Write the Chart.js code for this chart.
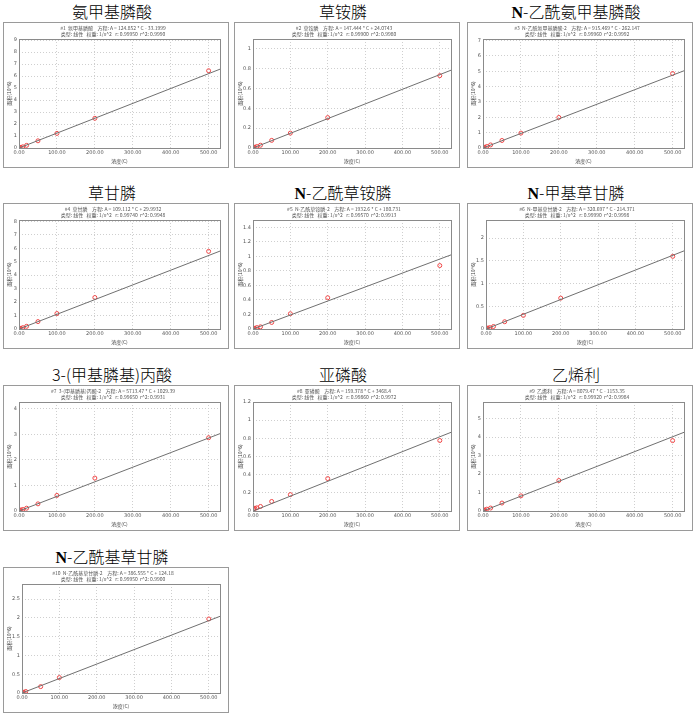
<!DOCTYPE html>
<html>
<head>
<meta charset="utf-8">
<script src="https://cdn.jsdelivr.net/npm/chart.js@4"></script>
<style>
  body { margin: 0; background: #fff; width: 696px; height: 719px; position: relative; overflow: hidden; }
  .ttl { position: absolute; width: 226px; height: 20px; line-height: 20px; text-align: center;
         font-family: "Noto Sans CJK SC", sans-serif; font-size: 16px; font-weight: 300; color: #000; }
  .ttl .n { font-family: "Liberation Serif", serif; font-weight: bold; }
  .box { position: absolute; border: 1px solid #9a9a9a; background: #fff; }
  .box canvas { display: block; }
</style>
</head>
<body>
<script>
// concentrations of the calibration levels
const conc = [1, 2, 5, 10, 20, 50, 100, 200, 500];

const titles = ["氨甲基膦酸", "草铵膦", "N-乙酰氨甲基膦酸", "草甘膦", "N-乙酰草铵膦",
  "N-甲基草甘膦", "3-(甲基膦基)丙酸", "亚磷酸", "乙烯利", "N-乙酰基草甘膦"];

const headers = [
  ["#1  氨甲基膦酸    方程: A = 124.852 * C - 33.1999", "类型: 线性   权重: 1/x^2   r: 0.99950  r^2: 0.9990"],
  ["#2  草铵膦    方程: A = 147.444 * C + 24.0743", "类型: 线性   权重: 1/x^2   r: 0.99900  r^2: 0.9980"],
  ["#3  N-乙酰氨甲基膦酸-2    方程: A = 915.469 * C - 262.147", "类型: 线性   权重: 1/x^2   r: 0.99960  r^2: 0.9992"],
  ["#4  草甘膦    方程: A = 109.112 * C + 29.9932", "类型: 线性   权重: 1/x^2   r: 0.99740  r^2: 0.9948"],
  ["#5  N-乙酰草铵膦-2    方程: A = 1932.6 * C + 180.731", "类型: 线性   权重: 1/x^2   r: 0.99570  r^2: 0.9913"],
  ["#6  N-甲基草甘膦-2    方程: A = 320.697 * C - 214.371", "类型: 线性   权重: 1/x^2   r: 0.99990  r^2: 0.9998"],
  ["#7  3-(甲基膦基)丙酸-2    方程: A = 5713.47 * C + 1029.39", "类型: 线性   权重: 1/x^2   r: 0.99650  r^2: 0.9931"],
  ["#8  亚磷酸    方程: A = 159.378 * C + 3468.4", "类型: 线性   权重: 1/x^2   r: 0.99860  r^2: 0.9972"],
  ["#9  乙烯利    方程: A = 8079.47 * C - 1153.35", "类型: 线性   权重: 1/x^2   r: 0.99920  r^2: 0.9984"],
  ["#10  N-乙酰基草甘膦-2    方程: A = 386.555 * C + 124.18", "类型: 线性   权重: 1/x^2   r: 0.99950  r^2: 0.9900"]
];

// measured responses (x10^6) at each level
const ampa        = [0.01, 0.02, 0.05, 0.10, 0.22, 0.60, 1.22, 2.48, 6.45];
const glufosinate = [0.002, 0.004, 0.008, 0.015, 0.028, 0.077, 0.15, 0.307, 0.73];
const nAcAmpa     = [0.01, 0.02, 0.05, 0.10, 0.20, 0.49, 0.97, 1.99, 4.85];
const glyphosate  = [0.01, 0.02, 0.05, 0.10, 0.20, 0.55, 1.15, 2.34, 5.77];
const nAcGluf     = [0.003, 0.005, 0.01, 0.02, 0.03, 0.09, 0.21, 0.43, 0.873];
const nMeGly      = [0.005, 0.01, 0.02, 0.03, 0.055, 0.16, 0.30, 0.68, 1.60];
const mpp         = [0.01, 0.02, 0.04, 0.06, 0.11, 0.28, 0.61, 1.29, 2.87];
const phosphorous = [0.02, 0.025, 0.03, 0.035, 0.05, 0.105, 0.18, 0.357, 0.776];
const ethephon    = [0.02, 0.04, 0.06, 0.10, 0.16, 0.43, 0.82, 1.65, 3.81];
const nAcGly      = [0.005, 0.01, 0.02, 0.04, null, 0.17, 0.41, null, 1.97];
const series = [ampa, glufosinate, nAcAmpa, glyphosate, nAcGluf, nMeGly, mpp, phosphorous, ethephon, nAcGly];

// fitted line: value at C = 0 and at C = 530
const fitStart = [0, 0, 0, 0, 0, 0, 0, 0, 0, 0];
const fitEnd   = [6.58, 0.785, 5.03, 5.79, 1.02, 1.72, 3.03, 0.866, 4.26, 2.04];

// axis ranges
const xMax = 530;
const xStep = 100;
const yMax  = [9.1, 1.1, 7.1, 8.1, 1.5, 2.4, 4.27, 1.2, 5.9, 2.9];
const yStep = [1, 0.2, 1, 1, 0.2, 0.5, 1, 0.2, 1, 0.5];

const boxLeft = [3, 234, 467];
const boxTop = [22, 203, 385, 567];

const frame = {
  id: "frame",
  afterDraw(chart) {
    const a = chart.chartArea, c = chart.ctx;
    c.save();
    c.strokeStyle = "#8a8a8a";
    c.lineWidth = 1;
    c.strokeRect(Math.round(a.left) + 0.5, Math.round(a.top) + 0.5, Math.round(a.right - a.left), Math.round(a.bottom - a.top));
    c.restore();
  }
};

titles.forEach((name, i) => {
  const col = i % 3, row = Math.floor(i / 3);
  const left = boxLeft[col], top = boxTop[row];
  const w = 226, h = 146;

  const t = document.createElement("div");
  t.className = "ttl";
  t.style.left = (left - 4) + "px";
  t.style.top = (top - 21) + "px";
  t.innerHTML = name.replace(/^N/, '<span class="n">N</span>');
  document.body.appendChild(t);

  const box = document.createElement("div");
  box.className = "box";
  box.style.left = left + "px";
  box.style.top = top + "px";
  box.style.width = (w - 2) + "px";
  box.style.height = (h - 2) + "px";
  const cv = document.createElement("canvas");
  cv.width = w - 2;
  cv.height = h - 2;
  box.appendChild(cv);
  document.body.appendChild(box);

  const pts = conc.map((c, k) => ({ x: c, y: series[i][k] })).filter(p => p.y !== null);
  const yw = yStep[i] < 1 ? 16 : 13;

  new Chart(cv, {
    type: "scatter",
    data: {
      datasets: [
        {
          type: "line",
          data: [{ x: 0, y: fitStart[i] }, { x: xMax, y: fitEnd[i] }],
          borderColor: "#707070",
          borderWidth: 1,
          pointRadius: 0,
          pointHoverRadius: 0,
          fill: false
        },
        {
          data: pts,
          pointStyle: "circle",
          pointRadius: 2,
          pointHoverRadius: 2,
          borderWidth: 1,
          borderColor: "#f04646",
          hoverBorderColor: "#f04646",
          backgroundColor: "rgba(0,0,0,0)",
          hoverBackgroundColor: "rgba(0,0,0,0)"
        }
      ]
    },
    options: {
      responsive: false,
      animation: false,
      events: [],
      devicePixelRatio: 1,
      layout: { padding: { left: 2, right: 8, top: 0, bottom: 2 } },
      plugins: {
        legend: { display: false },
        tooltip: { enabled: false },
        title: {
          display: true,
          text: headers[i],
          color: "#555",
          font: { size: 5, weight: "normal", family: "Noto Sans CJK SC", lineHeight: 1.2 },
          padding: { top: 2, bottom: 2 }
        }
      },
      scales: {
        x: {
          type: "linear",
          min: 0,
          max: xMax,
          afterFit(s) { s.height = 17; },
          ticks: {
            stepSize: xStep,
            includeBounds: false,
            autoSkip: false,
            font: { size: 5, family: "DejaVu Sans" },
            color: "#555",
            padding: 2,
            maxRotation: 0,
            callback: v => v.toFixed(2)
          },
          grid: { color: "#cfcfcf", drawTicks: false },
          border: { display: false, dash: [1, 2] },
          title: { display: true, text: "浓度(C)", font: { size: 5, family: "Noto Sans CJK SC" }, color: "#444", padding: 1 }
        },
        y: {
          min: 0,
          max: yMax[i],
          afterFit(s) { s.width = yw; },
          ticks: {
            stepSize: yStep[i],
            includeBounds: false,
            autoSkip: false,
            font: { size: 5, family: "DejaVu Sans" },
            color: "#555",
            padding: 2,
            callback: v => String(Number(v.toFixed(3)))
          },
          grid: { color: "#cfcfcf", drawTicks: false },
          border: { display: false, dash: [1, 2] },
          title: { display: true, text: "面积(10^6)", font: { size: 5, family: "Noto Sans CJK SC" }, color: "#444", padding: 0 }
        }
      }
    },
    plugins: [frame]
  });
});
</script>
</body>
</html>
